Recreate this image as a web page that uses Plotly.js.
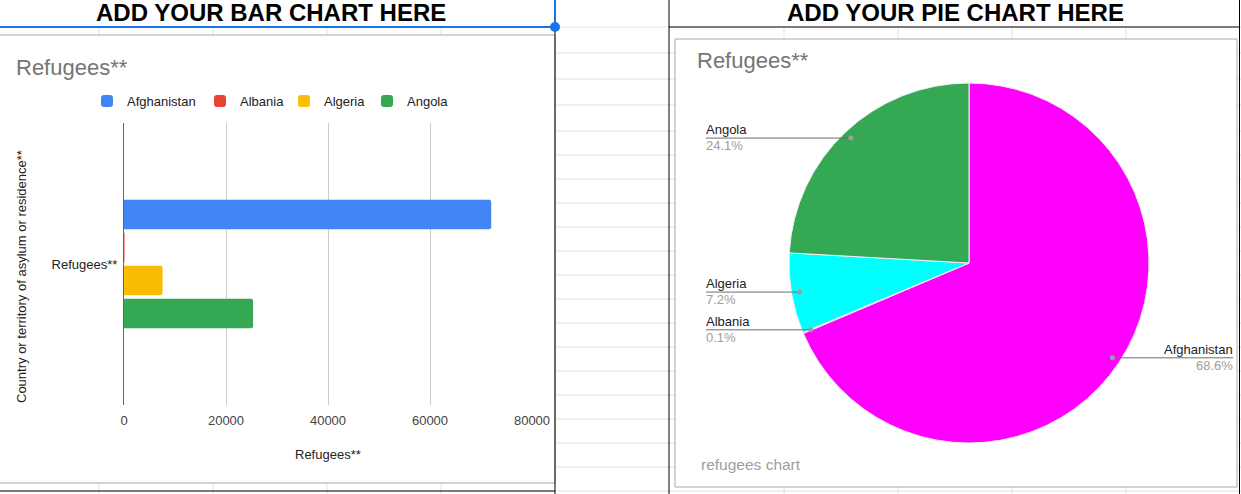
<!DOCTYPE html>
<html><head><meta charset="utf-8">
<script src="https://cdn.plot.ly/plotly-3.0.1.min.js"></script>
<style>html,body{margin:0;padding:0;background:#fff;overflow:hidden}#chart{width:1241px;height:494px}</style>
</head><body><div id="chart"></div>
<script>
// ---- data ----
const countries = ['Afghanistan', 'Albania', 'Algeria', 'Angola'];
const refugees = [72000, 100, 7560, 25300];
const barColors = ['#4285f4', '#ea4335', '#fbbc04', '#34a853'];
const pieColors = ['#ff00ff', '#ea4335', '#00ffff', '#34a853'];
const categoryLabel = 'Refugees**';
const xTickVals = [0, 20000, 40000, 60000, 80000];
const xTickText = ['0', '20000', '40000', '60000', '80000'];
const barTitle = 'Refugees**';
const pieTitle = 'Refugees**';
const pieSubtitle = 'refugees chart';
const yAxisTitle = 'Country or territory of asylum or residence**';
const xAxisTitle = 'Refugees**';
const headerLeft = 'ADD YOUR BAR CHART HERE';
const headerRight = 'ADD YOUR PIE CHART HERE';

// ---- page geometry (pixels) ----
const W = 1241, H = 494;
const PX = x => x / W;
const PY = y => 1 - y / H;
const FONT = 'Liberation Sans, Arial, sans-serif';

const barPlot = {left: 124, right: 532, top: 123, bottom: 405};
const pie = {cx: 969, cy: 263, r: 180};
const legendItemWidths = [68, 39, 38, 42];

const shapes = [];
function hline(y, x0, x1, color, width, layer) {
  shapes.push({type: 'line', xref: 'paper', yref: 'paper', x0: PX(x0), x1: PX(x1), y0: PY(y), y1: PY(y),
    line: {color: color, width: width || 1}, layer: layer || 'below'});
}
function vline(x, y0, y1, color, width, layer) {
  shapes.push({type: 'line', xref: 'paper', yref: 'paper', x0: PX(x), x1: PX(x), y0: PY(y0), y1: PY(y1),
    line: {color: color, width: width || 1}, layer: layer || 'below'});
}
function rect(x0, y0, x1, y1, fill, lineColor, layer) {
  shapes.push({type: 'rect', xref: 'paper', yref: 'paper', x0: PX(x0), x1: PX(x1), y0: PY(y1), y1: PY(y0),
    fillcolor: fill, line: {color: lineColor || 'rgba(0,0,0,0)', width: lineColor ? 1 : 0}, layer: layer || 'below'});
}

// spreadsheet grid
const gridC = '#e2e2e2';
const rowYs = [27, 53, 79, 105, 131, 155, 179, 203, 227, 251, 275, 299, 323, 347, 371, 395, 419, 443, 467, 491];
rowYs.forEach(y => hline(y, 0, W, gridC));
[99, 213, 327, 441, 784, 898, 1012, 1126].forEach(x => vline(x, 0, H, gridC));
// header cells
rect(0, 0, 555, 27, '#ffffff');
rect(669, 0, 1239, 27, '#ffffff');
rect(556, 0, 668, 26.5, '#ffffff');
// chart boxes
rect(-1, 35, 555, 483, '#ffffff', '#a8a8a8');
rect(675, 39, 1237, 487, '#ffffff', '#a8a8a8');
// cell borders
hline(491, 0, 555, '#000000');
vline(555, 27, H, '#000000');
vline(669, 0, H, '#000000');
vline(1239.5, 0, H, '#000000');
hline(27, 669, 1239, '#000000');
// selection
hline(27, 0, 555, '#1a73e8', 2);
vline(555, 0, 27, '#1a73e8', 2);
shapes.push({type: 'circle', xref: 'paper', yref: 'paper', x0: PX(550), x1: PX(560), y0: PY(32), y1: PY(22),
  fillcolor: '#1a73e8', line: {width: 0}, layer: 'above'});

// ---- traces ----
const traces = countries.map((c, i) => ({
  type: 'bar', orientation: 'h', name: c,
  y: [categoryLabel], x: [refugees[i]],
  marker: {color: barColors[i], cornerradius: 2},
  legendwidth: legendItemWidths[i],
  xaxis: 'x', yaxis: 'y', hoverinfo: 'none'
}));

const pieDomain = {
  x: [PX(pie.cx - pie.r), PX(pie.cx + pie.r)],
  y: [PY(pie.cy + pie.r), PY(pie.cy - pie.r)]
};
traces.push({
  type: 'pie', labels: countries, values: refugees, sort: false, direction: 'clockwise', rotation: 0,
  marker: {colors: pieColors, line: {color: '#f0f0f0', width: 1}},
  textinfo: 'none', textposition: 'none', showlegend: false, hoverinfo: 'none',
  domain: pieDomain
});

// ---- annotations ----
const annotations = [];
function ann(text, x, y, opts) {
  annotations.push(Object.assign({text: text, x: PX(x), y: PY(y), xref: 'paper', yref: 'paper',
    showarrow: false, xanchor: 'center', yanchor: 'middle', font: {family: FONT, size: 13, color: '#222'}}, opts || {}));
}
ann('<b>' + headerLeft + '</b>', 271, 13, {font: {family: FONT, size: 24, color: '#000'}});
ann('<b>' + headerRight + '</b>', 955, 13, {font: {family: FONT, size: 24, color: '#000'}});
ann(barTitle, 14, 67, {xanchor: 'left', font: {family: FONT, size: 22, color: '#757575'}});
ann(pieTitle, 695, 60, {xanchor: 'left', font: {family: FONT, size: 22, color: '#757575'}});
ann(pieSubtitle, 699, 464, {xanchor: 'left', font: {family: FONT, size: 15.5, color: '#9e9e9e'}});
ann(yAxisTitle, 21, 277, {textangle: -90});
ann(xAxisTitle, 328, 454);

// pie labels computed from the data
const total = refugees.reduce((a, b) => a + b, 0);
let cum = 0;
refugees.forEach((v, i) => {
  const mid = (cum + v / 2) / total;
  cum += v;
  const th = 2 * Math.PI * mid;
  const dx = pie.cx + 0.955 * pie.r * Math.sin(th);
  const dy = pie.cy - 0.955 * pie.r * Math.cos(th);
  const left = Math.sin(th) < 0;
  const lx = left ? 706 : 1233;
  const tx = left ? lx - 2 : lx + 2;
  const pct = (100 * v / total).toFixed(1) + '%';
  hline(dy, Math.min(lx, dx), Math.max(lx, dx), '#6e6e6e', 1, 'above');
  shapes.push({type: 'circle', xref: 'paper', yref: 'paper', x0: PX(dx - 2.5), x1: PX(dx + 2.5),
    y0: PY(dy + 2.5), y1: PY(dy - 2.5), fillcolor: '#9e9e9e', line: {width: 0}, layer: 'above'});
  ann(countries[i], tx, dy + 1, {xanchor: left ? 'left' : 'right', yanchor: 'bottom'});
  ann(pct, tx, dy - 2, {xanchor: left ? 'left' : 'right', yanchor: 'top',
    font: {family: FONT, size: 13, color: '#9e9e9e'}});
});

const layout = {
  width: W, height: H, margin: {l: 0, r: 0, t: 0, b: 0},
  paper_bgcolor: '#ffffff', plot_bgcolor: 'rgba(0,0,0,0)',
  font: {family: FONT, size: 13, color: '#222'},
  barmode: 'group', bargap: 0.532, bargroupgap: 0.1,
  showlegend: true,
  legend: {orientation: 'h', x: PX(87), y: PY(101), xanchor: 'left', yanchor: 'middle',
    font: {family: FONT, size: 13, color: '#222'}, bgcolor: 'rgba(0,0,0,0)', itemclick: false, itemdoubleclick: false},
  xaxis: {domain: [PX(barPlot.left), PX(barPlot.right)], range: [0, 80000], tickvals: xTickVals, ticktext: xTickText,
    showgrid: true, gridcolor: '#cccccc', gridwidth: 1, zeroline: false, showline: false, ticks: '',
    ticklabelstandoff: 6,
    tickfont: {family: FONT, size: 13, color: '#444'}, anchor: 'y', fixedrange: true},
  yaxis: {domain: [PY(barPlot.bottom), PY(barPlot.top)], type: 'category', range: [0.5, -0.5],
    showline: true, linecolor: '#666666', linewidth: 1, showgrid: false, zeroline: false, ticks: '',
    ticklabelstandoff: 3,
    tickfont: {family: FONT, size: 13, color: '#222'}, anchor: 'x', fixedrange: true},
  shapes: shapes, annotations: annotations, hovermode: false
};

Plotly.newPlot('chart', traces, layout, {displayModeBar: false, staticPlot: true});
</script></body></html>
